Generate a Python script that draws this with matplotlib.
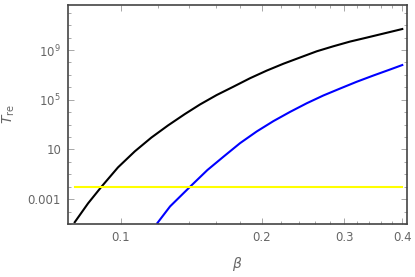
import matplotlib
matplotlib.use("Agg")
import matplotlib.pyplot as plt
from matplotlib.ticker import FixedLocator, FixedFormatter, NullFormatter

# Data
beta_black = [0.0796, 0.0850, 0.0908, 0.0985, 0.1070, 0.1161, 0.1260, 0.1369, 0.1476, 0.1602,
              0.1739, 0.1888, 0.2049, 0.2225, 0.2415, 0.2622, 0.2845, 0.3090, 0.3355, 0.3640, 0.3996]
T_black = [1.4e-5, 4.6e-4, 1.0e-2, 0.36, 7.0, 90, 8.5e2, 7.0e3, 4.2e4, 2.4e5,
           1.12e6, 5.4e6, 2.2e7, 7.9e7, 2.5e8, 7.9e8, 2.0e9, 4.8e9, 1.0e10, 2.1e10, 4.9e10]

beta_blue = [0.1196, 0.1273, 0.1405, 0.1530, 0.1656, 0.1797, 0.1951, 0.2118, 0.2299, 0.2496,
             0.2709, 0.2940, 0.3193, 0.3466, 0.3762, 0.3996]
T_blue = [1.2e-5, 2.6e-4, 1.0e-2, 0.22, 2.6, 32, 2.8e2, 1.9e3, 1.05e4, 5.2e4,
          2.2e5, 7.9e5, 2.8e6, 8.9e6, 2.7e7, 6.2e7]

beta_yellow = [0.0796, 0.3996]
T_yellow = [1.0e-2, 1.0e-2]

xticks = [0.1, 0.2, 0.3, 0.4]
xtick_labels = ["0.1", "0.2", "0.3", "0.4"]
xminor = [0.12, 0.14, 0.16, 0.18, 0.22, 0.24, 0.26, 0.28, 0.32, 0.34, 0.36, 0.38]
yticks = [1e-3, 1e1, 1e5, 1e9]
ytick_labels = ["0.001", "10", r"$10^5$", r"$10^9$"]
yminor = [10.0 ** k for k in range(-5, 13)]

fig = plt.figure(figsize=(4.15, 2.77), dpi=100)
ax = fig.add_axes([68 / 415, 1 - 224 / 277, (407 - 68) / 415, (224 - 5) / 277])

ax.plot(beta_black, T_black, color="black", lw=1.5, solid_joinstyle="round")
ax.plot(beta_blue, T_blue, color="#0000ff", lw=1.5, solid_joinstyle="round")
ax.plot(beta_yellow, T_yellow, color="#ffff00", lw=1.5)

ax.set_xscale("log")
ax.set_yscale("log")
ax.set_xlim(0.0770, 0.409)
ax.set_ylim(1.0e-5, 4.2e12)

gray = "#666666"
ax.xaxis.set_major_locator(FixedLocator(xticks))
ax.xaxis.set_major_formatter(FixedFormatter(xtick_labels))
ax.xaxis.set_minor_locator(FixedLocator(xminor))
ax.xaxis.set_minor_formatter(NullFormatter())
ax.yaxis.set_major_locator(FixedLocator(yticks))
ax.yaxis.set_major_formatter(FixedFormatter(ytick_labels))
ax.yaxis.set_minor_locator(FixedLocator(yminor))
ax.yaxis.set_minor_formatter(NullFormatter())

ax.tick_params(which="both", direction="in", top=True, right=True, color="#999999", width=0.6)
ax.tick_params(which="major", length=4, labelsize=8.5, labelcolor=gray, pad=5)
ax.tick_params(which="minor", length=2)

for s in ax.spines.values():
    s.set_color("#444444")
    s.set_linewidth(1.2)

ax.set_xlabel(r"$\beta$", color=gray, fontsize=10, labelpad=8)
ax.set_ylabel(r"$T_{\rm re}$", color=gray, fontsize=10, labelpad=8)

fig.savefig("out.png", dpi=100)
